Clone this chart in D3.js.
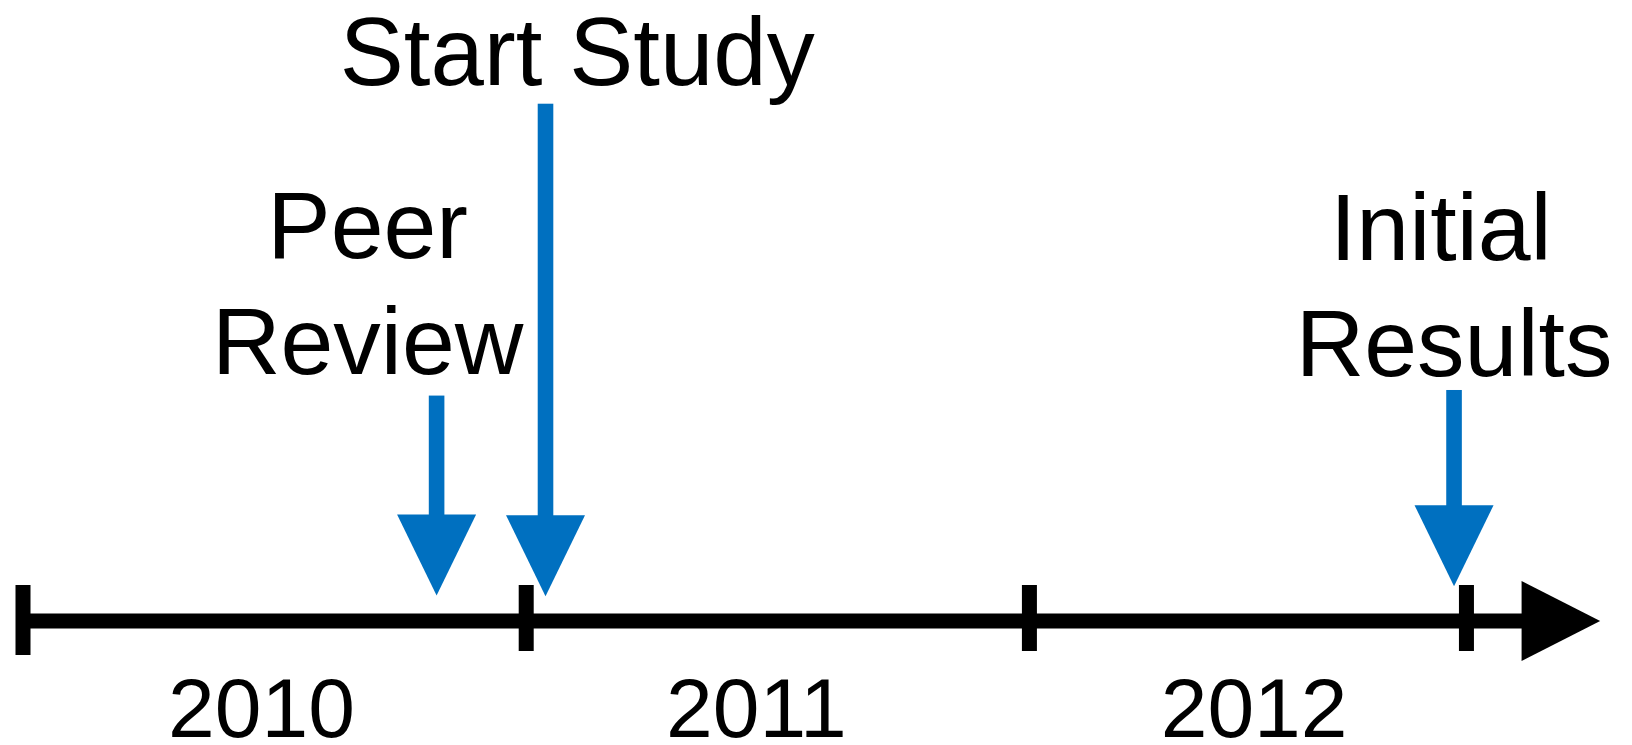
<!DOCTYPE html>
<html><head><meta charset="utf-8">
<script src="https://cdn.jsdelivr.net/npm/d3@7"></script>
<style>
html,body{margin:0;padding:0;background:#fff;}
svg{display:block;}
text{font-family:"Liberation Sans",Arial,sans-serif;fill:#000;}
</style></head>
<body>
<svg id="chart" width="1632" height="745"></svg>
<script>
// ---- data ----
const axisStart = "2010-01-01";
const axisHeadBase = "2012-12-23";
const axisEnd = "2013-02-18";
const tickDates = ["2010-01-01", "2011-01-01", "2012-01-01", "2012-11-13"];
const yearLabels = ["2010", "2011", "2012"];
const yearLabelDates = ["2010-06-23", "2011-06-17", "2012-06-12"];
const eventNames = [["Peer", "Review"], ["Start Study"], ["Initial\u00A0", "Results"]];
const eventDates = ["2010-10-28", "2011-01-15", "2012-11-04"];
const eventLabelDates = ["2010-09-08", "2011-02-07", "2012-11-04"];
const arrowTop = [36.3, 83.3, 37.2];   // level units
const arrowTip = [4.1, 4.0, 5.6];      // level units

const parse = d3.utcParse("%Y-%m-%d");
const W = 1632, H = 745;
const axisY = 621;
const x = d3.scaleUtc().domain([parse("2010-01-01"), parse("2013-01-01")]).range([23, 1534]);
const y = d3.scaleLinear().domain([0, 100]).range([axisY, 0]);

const svg = d3.select("#chart");
const blue = "#0070C0";

// axis line
svg.append("line")
  .attr("x1", x(parse(axisStart))).attr("x2", x(parse(axisHeadBase)) + 2)
  .attr("y1", axisY).attr("y2", axisY)
  .attr("stroke", "#000").attr("stroke-width", 15);
// axis arrow head
const hb = x(parse(axisHeadBase)), he = x(parse(axisEnd));
svg.append("path")
  .attr("d", `M${hb},${axisY - 40}L${he},${axisY}L${hb},${axisY + 40}Z`)
  .attr("fill", "#000");

// ticks
svg.selectAll("rect.tick").data(tickDates).join("rect")
  .attr("class", "tick")
  .attr("x", d => x(parse(d)) - 7.5)
  .attr("y", (d, i) => axisY - 36)
  .attr("width", 15)
  .attr("height", (d, i) => i === 0 ? 70 : 66)
  .attr("fill", "#000");

// year labels
svg.selectAll("text.year").data(yearLabels).join("text")
  .attr("class", "year")
  .attr("x", (d, i) => x(parse(yearLabelDates[i])))
  .attr("y", 737)
  .attr("text-anchor", "middle")
  .attr("font-size", 84)
  .text(d => d);

// event arrows
const shaftW = 15.6, headW = 79, headH = 81;
eventDates.forEach((d, i) => {
  const cx = x(parse(d));
  const top = y(arrowTop[i]);
  const tip = y(arrowTip[i]);
  const base = tip - headH;
  svg.append("rect")
    .attr("x", cx - shaftW / 2).attr("y", top)
    .attr("width", shaftW).attr("height", base - top + 1)
    .attr("fill", blue);
  svg.append("path")
    .attr("d", `M${cx - headW / 2},${base}L${cx + headW / 2},${base}L${cx},${tip}Z`)
    .attr("fill", blue);
});

// event labels
const labelFont = [95, 96, 95];
const firstBaseline = [258, 85, 260];
eventNames.forEach((lines, i) => {
  const t = svg.append("text")
    .attr("x", x(parse(eventLabelDates[i])))
    .attr("y", firstBaseline[i])
    .attr("text-anchor", "middle")
    .attr("font-size", labelFont[i]);
  lines.forEach((l, j) => {
    t.append("tspan")
      .attr("x", x(parse(eventLabelDates[i])))
      .attr("dy", j === 0 ? 0 : 116)
      .text(l);
  });
});
</script>
</body></html>
